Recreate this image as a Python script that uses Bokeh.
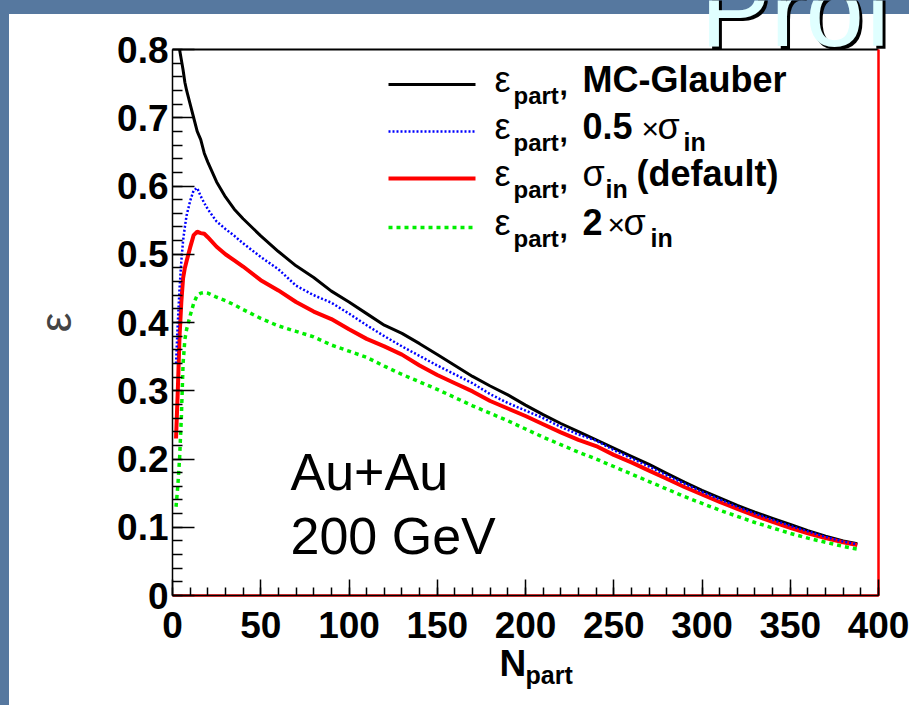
from bokeh.plotting import figure
from bokeh.models import Label, FixedTicker, Range1d
from bokeh.embed import file_html
from bokeh.resources import INLINE

# ---------------- data ----------------
npart = [2, 3, 4, 5, 6, 7, 8, 10, 12, 14, 16, 18, 20, 25, 30, 35, 40, 50, 60, 70, 80,
         90, 100, 110, 120, 130, 140, 150, 160, 170, 180, 190, 200, 210, 220, 230,
         240, 250, 260, 270, 280, 290, 300, 310, 320, 330, 340, 350, 360, 370, 380, 388]

# MC-Glauber curve leaves the frame top at N_part ~ 4
npart_glauber = [4, 5, 6, 7, 8, 10, 12, 14, 16, 18, 20, 25, 30, 35, 40, 50, 60, 70, 80,
                 90, 100, 110, 120, 130, 140, 150, 160, 170, 180, 190, 200, 210, 220, 230,
                 240, 250, 260, 270, 280, 290, 300, 310, 320, 330, 340, 350, 360, 370, 380, 388]
eps_glauber = [0.80, 0.785, 0.77, 0.752, 0.74, 0.72, 0.70, 0.68, 0.668, 0.648,
               0.635, 0.606, 0.584, 0.566, 0.552, 0.527, 0.504, 0.483, 0.466, 0.446,
               0.430, 0.413, 0.396, 0.384, 0.369, 0.353, 0.337, 0.321, 0.307, 0.294,
               0.279, 0.265, 0.252, 0.240, 0.228, 0.216, 0.204, 0.192, 0.179, 0.166,
               0.154, 0.143, 0.132, 0.122, 0.113, 0.104, 0.095, 0.087, 0.080, 0.076]

eps_half = [0.34, 0.40, 0.45, 0.49, 0.52, 0.54, 0.557, 0.578, 0.594, 0.597, 0.585, 0.575,
            0.566, 0.548, 0.537, 0.527, 0.516, 0.496, 0.478, 0.454, 0.440, 0.429,
            0.413, 0.396, 0.380, 0.365, 0.351, 0.337, 0.324, 0.311, 0.295, 0.282,
            0.271, 0.260, 0.247, 0.236, 0.227, 0.213, 0.201, 0.189, 0.176, 0.164,
            0.152, 0.141, 0.130, 0.120, 0.111, 0.102, 0.094, 0.086, 0.079, 0.075]

eps_default = [0.23, 0.30, 0.38, 0.43, 0.465, 0.48, 0.49, 0.51, 0.528, 0.533, 0.531, 0.530,
               0.525, 0.511, 0.500, 0.491, 0.482, 0.462, 0.447, 0.430, 0.416, 0.405,
               0.390, 0.376, 0.365, 0.353, 0.337, 0.323, 0.311, 0.299, 0.285, 0.274,
               0.263, 0.251, 0.239, 0.228, 0.219, 0.206, 0.195, 0.183, 0.171, 0.159,
               0.148, 0.137, 0.127, 0.117, 0.108, 0.099, 0.091, 0.084, 0.078, 0.074]

eps_double = [0.13, 0.16, 0.20, 0.26, 0.34, 0.375, 0.39, 0.41, 0.428, 0.44, 0.443, 0.444,
              0.443, 0.437, 0.432, 0.426, 0.419, 0.406, 0.395, 0.387, 0.379, 0.367,
              0.358, 0.349, 0.336, 0.324, 0.313, 0.302, 0.290, 0.278, 0.267, 0.256,
              0.244, 0.232, 0.221, 0.210, 0.200, 0.189, 0.178, 0.167, 0.156, 0.145,
              0.135, 0.125, 0.116, 0.107, 0.099, 0.091, 0.084, 0.078, 0.072, 0.068]

x_ticks = [0, 50, 100, 150, 200, 250, 300, 350, 400]
x_tick_labels = ["0", "50", "100", "150", "200", "250", "300", "350", "400"]
y_ticks = [0, 0.1, 0.2, 0.3, 0.4, 0.5, 0.6, 0.7, 0.8]
y_tick_labels = ["0", "0.1", "0.2", "0.3", "0.4", "0.5", "0.6", "0.7", "0.8"]

# ---------------- layout constants (page pixels) ----------------
W, H = 909, 705
FL, FR, FT, FB = 172, 878, 49, 595          # plot box on the page
XMAX, YMAX = 400.0, 0.8
SX = (FR - FL) / XMAX                         # px per x unit
SY = (FB - FT) / YMAX                         # px per y unit
BLUE_BG = "#56789f"
FONT = "Liberation Sans"
BASE_K = 0.37                                 # baseline correction (fraction of font size)

BLACK = dict(line_color="black", line_width=3)
BLUE = dict(line_color="#0000ff", line_width=2.5, line_dash="2 2")
RED = dict(line_color="#ff0000", line_width=4)
GREEN = dict(line_color="#00ee00", line_width=3.5, line_dash="4 4")


def dx(X):
    return (X - FL) / SX


def dy(Y):
    return (FB - Y) / SY


# the frame covers the whole canvas; axes sit at fixed locations inside it
p = figure(width=W, height=H,
           x_range=Range1d(dx(0), dx(W)), y_range=Range1d(dy(H), dy(0)),
           output_backend="svg", toolbar_location=None,
           min_border=0, min_border_left=0, min_border_right=0,
           min_border_top=0, min_border_bottom=0,
           border_fill_color=None, background_fill_color=None,
           outline_line_color=None)
p.styles = {"background": (f"linear-gradient(to bottom, {BLUE_BG} 0px, {BLUE_BG} 14px, transparent 14px), "
                           f"linear-gradient(to right, {BLUE_BG} 0px, {BLUE_BG} 9px, #ffffff 9px)")}
p.grid.visible = False

p.xaxis.fixed_location = 0
p.yaxis.fixed_location = 0
p.xaxis.bounds = (0, XMAX)
p.yaxis.bounds = (0, YMAX)
p.xaxis.ticker = FixedTicker(ticks=x_ticks, minor_ticks=list(range(0, 401, 10)))
p.yaxis.ticker = FixedTicker(ticks=y_ticks, minor_ticks=[i * 0.02 for i in range(41)])
p.xaxis.major_label_overrides = dict(zip(x_ticks, x_tick_labels))
p.yaxis.major_label_overrides = dict(zip(y_ticks, y_tick_labels))
for ax in (p.xaxis, p.yaxis):
    ax.axis_line_color = "black"
    ax.axis_line_width = 1.5
    ax.major_tick_out = 0
    ax.minor_tick_out = 0
    ax.major_tick_line_width = 1.5
    ax.minor_tick_line_width = 1.5
    ax.major_tick_line_color = "black"
    ax.minor_tick_line_color = "black"
    ax.major_label_text_font = FONT
    ax.major_label_text_font_style = "bold"
    ax.major_label_text_font_size = "37px"
    ax.major_label_text_color = "black"
p.yaxis.major_tick_in = 22
p.yaxis.minor_tick_in = 10
p.xaxis.major_tick_in = 16
p.xaxis.minor_tick_in = 8
p.yaxis.major_label_standoff = 4
p.xaxis.major_label_standoff = 16
p.yaxis.axis_label = "ε"
p.yaxis.axis_label_text_font = FONT
p.yaxis.axis_label_text_font_style = "normal"
p.yaxis.axis_label_text_font_size = "44px"
p.yaxis.axis_label_standoff = 34

# plot box: black top edge, red right and bottom edges (left edge is the y axis)
p.line([0, XMAX], [YMAX, YMAX], line_color="black", line_width=2)
p.line([0, XMAX, XMAX], [0, 0, YMAX], line_color="red", line_width=2.5)

p.line(npart_glauber, eps_glauber, **BLACK)
p.line(npart, eps_default, **RED)
p.line(npart, eps_half, **BLUE)
p.line(npart, eps_double, **GREEN)


def lab(X, Y, text, size, bold=False, color="black", **kw):
    """Place a text with its baseline at page pixel (X, Y)."""
    p.add_layout(Label(x=dx(X), y=dy(Y - BASE_K * size), text=text, text_font=FONT,
                       text_font_size=f"{size}px",
                       text_font_style="bold" if bold else "normal",
                       text_color=color, text_baseline="alphabetic", **kw))


# legend (manual, to keep the sub-scripts)
rows = [84, 131, 178, 227]
for Y, st in zip(rows, [BLACK, BLUE, RED, GREEN]):
    p.line([dx(388), dx(475)], [dy(Y), dy(Y)], **st)
    lab(494, Y + 8, "ε", 36)
    lab(513, Y + 20, "part", 24, bold=True)
    lab(559, Y + 12, ",", 30, bold=True)

MAIN = 36
SUB = 25
lab(582, rows[0] + 8, "MC-Glauber", MAIN, bold=True)
lab(582, rows[1] + 8, "0.5", MAIN, bold=True)
lab(641, rows[1] + 8, "×", 30)
lab(657, rows[1] + 8, "σ", MAIN)
lab(683, rows[1] + 20, "in", SUB, bold=True)
lab(582, rows[2] + 8, "σ", MAIN)
lab(605, rows[2] + 20, "in", SUB, bold=True)
lab(636, rows[2] + 8, "(default)", MAIN, bold=True)
lab(582, rows[3] + 8, "2", MAIN, bold=True)
lab(607, rows[3] + 8, "×", 30)
lab(623, rows[3] + 8, "σ", MAIN)
lab(650, rows[3] + 20, "in", SUB, bold=True)

lab(290, 491, "Au+Au", 52)
lab(290, 555, "200 GeV", 52)

# x-axis title N_part
lab(499, 677, "N", 37, bold=True)
lab(525, 684, "part", 25, bold=True)

# slide title fragment (cut by the page top, as in the slide)
lab(703, 51, "Prof", 105, color="black")
lab(700, 48, "Prof", 105, color="#e0ffff")

open("out.html", "w").write(file_html(p, INLINE))
